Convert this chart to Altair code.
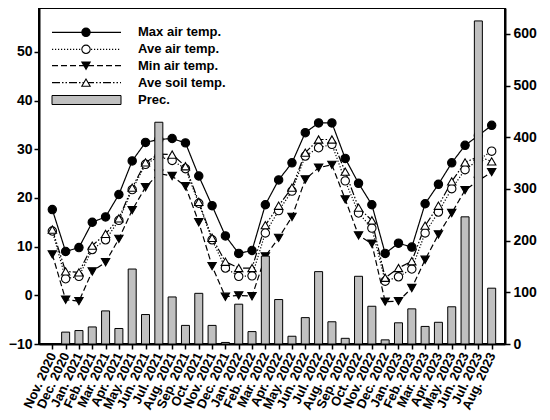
import altair as alt
import pandas as pd

months = ["Nov. 2020", "Dec. 2020", "Jan. 2021", "Feb. 2021", "Mar. 2021", "Apr. 2021",
          "May. 2021", "Jun. 2021", "Jul. 2021", "Aug. 2021", "Sep. 2021", "Oct. 2021",
          "Nov. 2021", "Dec. 2021", "Jan. 2022", "Feb. 2022", "Mar. 2022", "Apr. 2022",
          "May. 2022", "Jun. 2022", "Jul. 2022", "Aug. 2022", "Sep. 2022", "Oct. 2022",
          "Nov. 2022", "Dec. 2022", "Jan. 2023", "Feb. 2023", "Mar. 2023", "Apr. 2023",
          "May. 2023", "Jun. 2023", "Jul. 2023", "Aug. 2023"]

max_air = [17.6, 9.0, 9.8, 15.0, 16.1, 20.7, 27.6, 31.4, 32.0, 32.2, 31.3, 24.5,
           18.4, 12.2, 8.6, 9.2, 18.6, 23.7, 27.2, 33.4, 35.4, 35.4, 28.1, 23.0,
           18.6, 8.6, 10.7, 9.9, 18.8, 22.8, 27.2, 30.8, 32.8, 34.9]
ave_air = [13.2, 3.4, 3.9, 9.4, 11.4, 15.4, 21.7, 26.9, 28.5, 27.7, 26.0, 18.9,
           11.4, 5.6, 3.9, 4.0, 12.8, 17.4, 21.4, 28.6, 30.3, 31.0, 23.5, 16.9,
           13.8, 2.9, 3.8, 5.4, 12.8, 17.1, 21.9, 25.8, 27.8, 29.6]
min_air = [8.4, -0.9, -1.2, 4.9, 6.8, 11.6, 17.5, 22.2, 25.0, 24.5, 22.4, 15.0,
           6.0, -0.3, 0.0, -0.2, 8.0, 11.8, 16.1, 23.8, 26.2, 26.8, 19.7, 12.3,
           10.6, -1.3, -1.2, 1.5, 7.3, 12.5, 16.9, 21.6, 23.5, 25.3]
ave_soil = [13.5, 4.9, 4.7, 10.2, 12.6, 15.8, 22.1, 27.3, 29.0, 28.9, 26.5, 19.2,
            11.8, 6.9, 5.6, 5.6, 14.4, 18.4, 22.1, 29.3, 32.0, 32.0, 25.4, 18.0,
            15.4, 3.6, 5.6, 7.0, 14.3, 18.4, 23.4, 27.3, 28.5, 27.5]
prec = [0, 23, 26, 33, 64, 30, 145, 57, 429, 91, 36, 98,
        36, 3, 77, 24, 170, 86, 15, 51, 140, 43, 11, 131,
        73, 8, 41, 68, 34, 42, 72, 246, 625, 108]

series = ["Max air temp.", "Ave air temp.", "Min air temp.", "Ave soil temp."]
dashes = [[1, 0], [1.2, 1.8], [6, 3], [8, 2, 1.5, 2, 1.5, 2]]
shapes = ["circle", "circle", "triangle-down", "triangle-up"]
fills = ["black", "white", "black", "white"]

FONT = "Liberation Sans"

rows = []
for name, vals in zip(series, [max_air, ave_air, min_air, ave_soil]):
    for m, v in zip(months, vals):
        rows.append({"month": m, "series": name, "temp": v})
temp_df = pd.DataFrame(rows)
prec_df = pd.DataFrame({"month": months, "prec": prec})

x_axis = alt.Axis(labelAngle=-65, labelAlign="right", labelBaseline="middle",
                  labelFontSize=13, labelPadding=4, tickSize=5, title=None,
                  labelOverlap=False)
x_enc = alt.X("month:O", sort=months,
              scale=alt.Scale(domain=months, type="point", padding=1),
              axis=x_axis)

dash_scale = alt.Scale(domain=series, range=dashes)
shape_scale = alt.Scale(domain=series, range=shapes)
fill_scale = alt.Scale(domain=series, range=fills)

y_temp = alt.Y("temp:Q", scale=alt.Scale(domain=[-10, 59], nice=False, zero=False),
               axis=alt.Axis(orient="left", values=[-10, 0, 10, 20, 30, 40, 50],
                             title=None, grid=False))

lines = alt.Chart(temp_df).mark_line(color="black", strokeWidth=1.2).encode(
    x=x_enc, y=y_temp,
    strokeDash=alt.StrokeDash("series:N", scale=dash_scale, legend=None),
)
points = alt.Chart(temp_df).mark_point(size=70, stroke="black", strokeWidth=1.1,
                                       opacity=1, filled=False).encode(
    x=x_enc, y=y_temp,
    shape=alt.Shape("series:N", scale=shape_scale, legend=None),
    fill=alt.Fill("series:N", scale=fill_scale, legend=None),
)
temps = alt.layer(lines, points)

bars = alt.Chart(prec_df).mark_bar(size=8, fill="#c0c0c0", stroke="black",
                                   strokeWidth=1).encode(
    x=x_enc,
    y=alt.Y("prec:Q", scale=alt.Scale(domain=[0, 650], nice=False),
            axis=alt.Axis(orient="right", values=[0, 100, 200, 300, 400, 500, 600],
                          title=None, grid=False, labelPadding=3)),
    opacity=alt.condition(alt.datum.prec > 0, alt.value(1), alt.value(0)),
)

# legend (drawn inside the plot, top-left)
leg_y = [24.3, 41.3, 57.7, 74.7]
leg_df = pd.DataFrame({"series": series, "ly": leg_y})
leg_lines = alt.Chart(leg_df).mark_rule(color="black", strokeWidth=1.2).encode(
    x=alt.value(13), x2=alt.value(82),
    y=alt.Y("ly:Q", scale=None, axis=None),
    strokeDash=alt.StrokeDash("series:N", scale=dash_scale, legend=None),
)
leg_pts = alt.Chart(leg_df).mark_point(size=70, stroke="black", strokeWidth=1.1,
                                       opacity=1, filled=False).encode(
    x=alt.value(47),
    y=alt.Y("ly:Q", scale=None, axis=None),
    shape=alt.Shape("series:N", scale=shape_scale, legend=None),
    fill=alt.Fill("series:N", scale=fill_scale, legend=None),
)
leg_rect = alt.Chart(pd.DataFrame({"k": [0]})).mark_rect(
    fill="#c0c0c0", stroke="black", strokeWidth=1).encode(
    x=alt.value(13), x2=alt.value(82), y=alt.value(87.5), y2=alt.value(96.5))
txt_df = pd.DataFrame({"label": series + ["Prec."], "ly": leg_y + [92.0]})
leg_text = alt.Chart(txt_df).mark_text(align="left", baseline="middle", font=FONT,
                                       fontSize=13, fontWeight="bold",
                                       color="black").encode(
    x=alt.value(99),
    y=alt.Y("ly:Q", scale=None, axis=None),
    text="label:N",
)
legend = alt.layer(leg_lines, leg_pts, leg_rect, leg_text)

chart = alt.layer(temps, bars, legend).resolve_scale(y="independent").properties(
    width=466, height=336, background="white", padding=0
).configure_view(stroke="black", strokeWidth=2).configure_axis(
    labelFont=FONT, labelFontWeight="bold", labelFontSize=14, labelColor="black",
    domainColor="black", domainWidth=2, tickColor="black", tickWidth=1.5,
    tickSize=5, labelPadding=2, grid=False
)

chart.save("out.html", embed_options={"renderer": "svg", "actions": False})
